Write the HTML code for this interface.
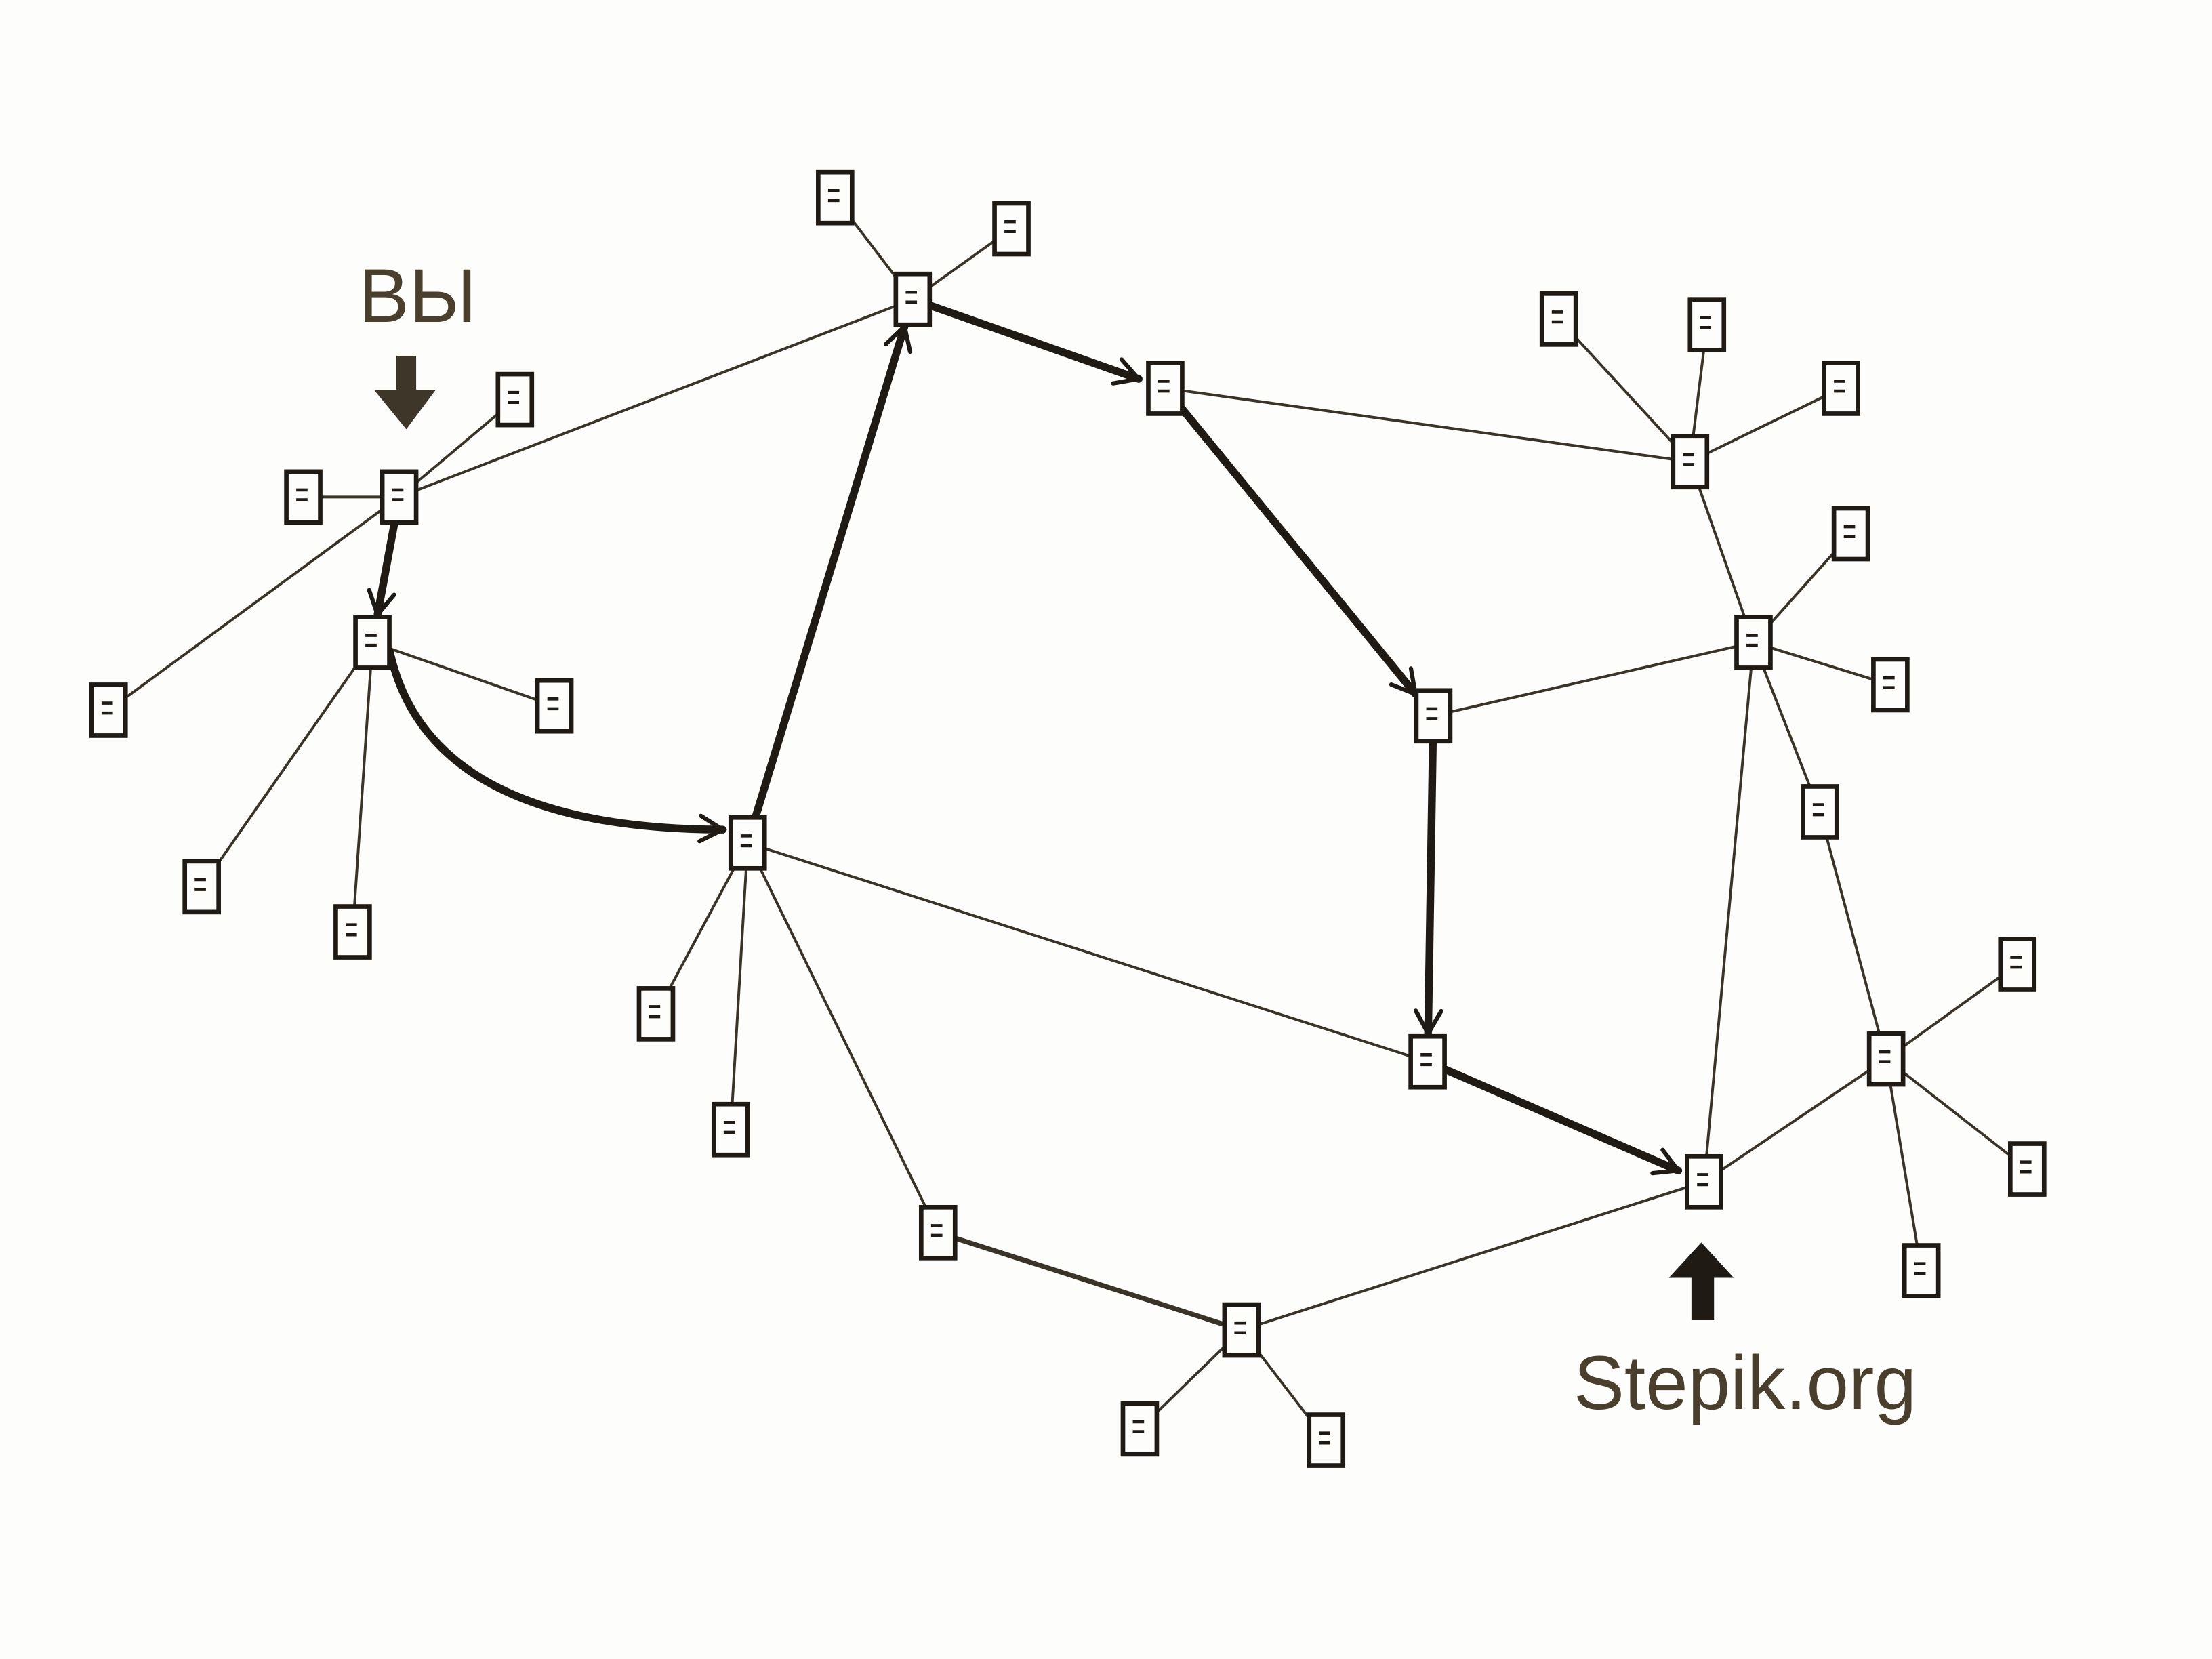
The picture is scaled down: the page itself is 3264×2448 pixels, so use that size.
<!DOCTYPE html>
<html><head><meta charset="utf-8"><style>
html,body{margin:0;padding:0;background:#fdfdfc;}
svg{display:block;}
</style></head><body>
<svg id="net" width="3264" height="2448" viewBox="0 0 1568 1175" preserveAspectRatio="none" xmlns="http://www.w3.org/2000/svg">
<rect x="0" y="0" width="1568" height="1175" fill="#fdfdfc"/>
<g id="thin" stroke="#3a3328" stroke-width="1.9" fill="none"></g>
<g id="thick" stroke="#1f1a14" stroke-width="5.5" fill="none" stroke-linecap="round"></g>
<g id="nodes"></g>
<text x="296" y="228" font-family="Liberation Sans, sans-serif" font-size="54" fill="#4a3f2c" text-anchor="middle">ВЫ</text>
<path d="M281,252 L295,252 L295,276 L309,276 L288,304 L265,276 L281,276 Z" fill="#3e3629"/>
<path d="M1199,935 L1215,935 L1215,905 L1229,905 L1206,880 L1183,905 L1199,905 Z" fill="#1f1a14"/>
<text x="1237" y="998" font-family="Liberation Sans, sans-serif" font-size="54" fill="#4a3f2c" text-anchor="middle">Stepik.org</text>
</svg>
<script>
const nodeNames = ["A","B","C","D","E","F","G","H","I","J","K","L","M","N","a1","a2","a3","b1","b2","b3","c1","c2","d1","d2","i1","i2","i3","j1","j2","l1","l2","l3","n1","n2"];
const nodeX = [283,264,530,647,826,1016,1012,1208,1198,1243,1290,1337,665,880,215,365,77,393,143,250,465,518,592,717,1105,1210,1305,1312,1340,1430,1437,1362,808,940];
const nodeY = [352,455,597,212,275,507,752,837,327,455,575,750,873,942,352,283,503,500,628,660,718,800,140,162,226,230,275,378,485,683,828,900,1012,1020];
const thinFrom = ["A","A","A","A","B","B","B","C","C","C","C","M","N","N","N","E","I","I","I","I","J","J","J","J","J","K","L","L","L","L","D","D"];
const thinTo   = ["D","a1","a2","a3","b1","b2","b3","G","M","c1","c2","N","H","n1","n2","I","J","i1","i2","i3","F","H","K","j1","j2","L","H","l1","l2","l3","d1","d2"];
const pathFrom = ["A","B","C","D","E","F","G"];
const pathTo   = ["B","C","D","E","F","G","H"];
const NS="http://www.w3.org/2000/svg";
const idx=n=>nodeNames.indexOf(n);
const thinG=document.getElementById('thin'), thickG=document.getElementById('thick'), nodesG=document.getElementById('nodes');
thinFrom.forEach((f,i)=>{
  const a=idx(f), b=idx(thinTo[i]);
  const l=document.createElementNS(NS,'line');
  l.setAttribute('x1',nodeX[a]);l.setAttribute('y1',nodeY[a]);l.setAttribute('x2',nodeX[b]);l.setAttribute('y2',nodeY[b]);
  if(f==="M"&&thinTo[i]==="N") l.setAttribute('stroke-width','3.5');
  
  
  thinG.appendChild(l);
});
pathFrom.forEach((f,i)=>{
  const a=idx(f), b=idx(pathTo[i]);
  const x1=nodeX[a],y1=nodeY[a],x2=nodeX[b],y2=nodeY[b];
  const dx=x2-x1, dy=y2-y1, len=Math.hypot(dx,dy), ux=dx/len, uy=dy/len;
  const ex=x2-ux*20, ey=y2-uy*20, sx=x1+ux*14, sy=y1+uy*14;
  let d;
  if(f==="B"){ d=`M${sx},${sy} Q${x1+40},${y2-10} ${ex},${ey}`; }
  else d=`M${sx},${sy} L${ex},${ey}`;
  const p=document.createElementNS(NS,'path'); p.setAttribute('d',d);
  
  
  thickG.appendChild(p);
  let hx=ux,hy=uy;
  if(f==="B"){hx=1;hy=0.05;}
  const px=-hy, py=hx;
  const h=document.createElementNS(NS,'path');
  h.setAttribute('d',`M${ex-hx*16+px*9},${ey-hy*16+py*9} L${ex},${ey} L${ex-hx*16-px*9},${ey-hy*16-py*9}`);
  h.setAttribute('stroke-width','3');
  
  
  thickG.appendChild(h);
});
nodeNames.forEach((n,i)=>{
  const g=document.createElementNS(NS,'g');
  
  
  const x=nodeX[i], y=nodeY[i];
  g.innerHTML=`<rect x="${x-12}" y="${y-18}" width="24" height="36" fill="#fdfdfc" stroke="#1f1a14" stroke-width="3.2"/><line x1="${x-5}" y1="${y-5}" x2="${x+3}" y2="${y-5}" stroke="#1f1a14" stroke-width="2.2"/><line x1="${x-5}" y1="${y+2}" x2="${x+3}" y2="${y+2}" stroke="#1f1a14" stroke-width="2.2"/>`;
  nodesG.appendChild(g);
});
</script>
</body></html>
